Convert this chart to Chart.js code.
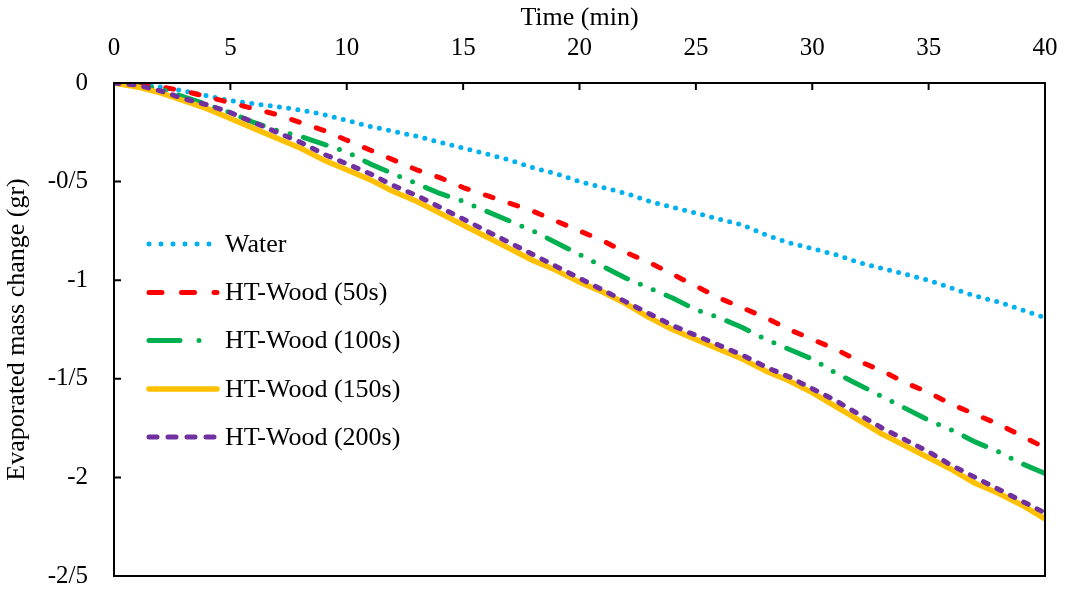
<!DOCTYPE html>
<html>
<head>
<meta charset="utf-8">
<script src="https://cdn.jsdelivr.net/npm/chart.js@4.4.1/dist/chart.umd.min.js"></script>
<style>
	html, body { margin: 0; padding: 0; background: #fff; overflow: hidden; }
	canvas { display: block; }
</style>
</head>
<body>
<canvas id="evapChart" width="1068" height="592"></canvas>
<script>
// time in minutes
const timeMin = [0, 1, 2, 3, 4, 5, 6, 7, 8, 9, 10, 11, 12, 13, 14, 15, 16, 17, 18, 19, 20,
	21, 22, 23, 24, 25, 26, 27, 28, 29, 30, 31, 32, 33, 34, 35, 36, 37, 38, 39, 40];

const water = [0, -0.005, -0.02, -0.04, -0.065, -0.09, -0.105, -0.12, -0.137, -0.16, -0.19,
	-0.22, -0.245, -0.27, -0.30, -0.33, -0.36, -0.39, -0.43, -0.46, -0.50,
	-0.53, -0.56, -0.60, -0.63, -0.66, -0.69, -0.72, -0.77, -0.81, -0.84,
	-0.87, -0.91, -0.94, -0.97, -1.00, -1.04, -1.08, -1.11, -1.15, -1.19];

const wood50 = [0, -0.005, -0.02, -0.04, -0.07, -0.10, -0.13, -0.16, -0.20, -0.24, -0.29,
	-0.34, -0.39, -0.44, -0.48, -0.53, -0.57, -0.61, -0.65, -0.70, -0.75,
	-0.80, -0.86, -0.91, -0.97, -1.03, -1.09, -1.14, -1.19, -1.25, -1.30,
	-1.35, -1.41, -1.46, -1.52, -1.57, -1.63, -1.68, -1.73, -1.79, -1.85];

const wood100 = [0, -0.01, -0.03, -0.07, -0.11, -0.15, -0.20, -0.24, -0.27, -0.31, -0.35,
	-0.41, -0.46, -0.51, -0.56, -0.60, -0.65, -0.70, -0.75, -0.81, -0.87,
	-0.93, -0.99, -1.04, -1.09, -1.15, -1.19, -1.24, -1.30, -1.35, -1.40,
	-1.47, -1.53, -1.59, -1.65, -1.71, -1.76, -1.82, -1.87, -1.93, -1.98];

const wood150 = [0, -0.02, -0.05, -0.09, -0.13, -0.18, -0.23, -0.28, -0.33, -0.39, -0.44,
	-0.49, -0.55, -0.60, -0.66, -0.72, -0.78, -0.84, -0.90, -0.95, -1.01,
	-1.06, -1.12, -1.19, -1.25, -1.30, -1.35, -1.40, -1.46, -1.51, -1.57,
	-1.64, -1.71, -1.78, -1.84, -1.90, -1.96, -2.03, -2.08, -2.14, -2.21];

const wood200 = [0, -0.01, -0.04, -0.08, -0.11, -0.15, -0.20, -0.25, -0.30, -0.36, -0.41,
	-0.46, -0.52, -0.57, -0.63, -0.69, -0.75, -0.81, -0.87, -0.93, -0.99,
	-1.05, -1.11, -1.17, -1.23, -1.28, -1.33, -1.38, -1.44, -1.49, -1.55,
	-1.61, -1.68, -1.75, -1.81, -1.87, -1.94, -2.00, -2.06, -2.12, -2.18];

const seriesNames = ['Water', 'HT-Wood (50s)', 'HT-Wood (100s)', 'HT-Wood (150s)', 'HT-Wood (200s)'];

// y tick labels as printed (slash as decimal mark)
const yTickValues = [0, -0.5, -1, -1.5, -2, -2.5];
const yTickLabels = ['0', '-0/5', '-1', '-1/5', '-2', '-2/5'];

const FONT = "'Liberation Serif', 'Times New Roman', serif";

function pts(arr) {
	return arr.map(function (v, i) { return { x: timeMin[i], y: v }; });
}

// dash = pattern in plot, legDash = pattern of the legend sample
const styles = [
	{ color: '#00B0F0', dash: [0, 9.3], legDash: [0, 12], width: 5 },
	{ color: '#FF0000', dash: [8, 18], legDash: [13, 19.5], width: 5 },
	{ color: '#00B050', dash: [24, 14, 0, 14, 0, 14], legDash: [31, 19, 0, 30], width: 5 },
	{ color: '#FFC000', dash: [], legDash: [], width: 5.5 },
	{ color: '#7030A0', dash: [5, 10], legDash: [8, 11], width: 5 }
];
const allSeries = [water, wood50, wood100, wood150, wood200];

const datasets = allSeries.map(function (s, i) {
	return {
		label: seriesNames[i],
		data: pts(s),
		borderColor: styles[i].color,
		backgroundColor: styles[i].color,
		borderWidth: styles[i].width,
		borderDash: styles[i].dash,
		borderCapStyle: 'round',
		borderJoinStyle: 'round',
		pointRadius: 0,
		tension: 0,
		fill: false,
		order: 4 - i
	};
});

// frame, inward ticks, legend
const framePlugin = {
	id: 'framePlugin',
	afterDraw: function (chart) {
		const ctx = chart.ctx;
		const a = chart.chartArea;
		const xs = chart.scales.x;
		const ys = chart.scales.y;
		ctx.save();
		ctx.strokeStyle = '#000';
		ctx.lineWidth = 2;
		ctx.lineCap = 'butt';
		ctx.setLineDash([]);
		ctx.strokeRect(a.left, a.top, a.right - a.left, a.bottom - a.top);
		ctx.beginPath();
		xs.ticks.forEach(function (t) {
			const px = xs.getPixelForValue(t.value);
			ctx.moveTo(px, a.top);
			ctx.lineTo(px, a.top + 7);
		});
		ys.ticks.forEach(function (t) {
			const py = ys.getPixelForValue(t.value);
			ctx.moveTo(a.left, py);
			ctx.lineTo(a.left + 7, py);
		});
		ctx.stroke();

		// legend
		const lx = 147, lw = 70, tx = 225;
		const rows = [244, 292.5, 340.5, 389, 437];
		ctx.font = '26px ' + FONT;
		ctx.textBaseline = 'middle';
		ctx.textAlign = 'left';
		chart.data.datasets.forEach(function (ds, i) {
			const y = rows[i];
			ctx.strokeStyle = ds.borderColor;
			ctx.lineWidth = ds.borderWidth;
			ctx.lineCap = 'round';
			ctx.setLineDash(styles[i].legDash);
			ctx.beginPath();
			ctx.moveTo(lx + 2, y);
			ctx.lineTo(lx + lw, y);
			ctx.stroke();
			ctx.setLineDash([]);
			ctx.fillStyle = '#000';
			ctx.fillText(ds.label, tx, y + 1);
		});
		ctx.restore();
	}
};

const ctx = document.getElementById('evapChart').getContext('2d');
new Chart(ctx, {
	type: 'line',
	data: { datasets: datasets },
	options: {
		responsive: false,
		animation: false,
		devicePixelRatio: 1,
		layout: { padding: { left: 0, top: 0, right: 23, bottom: 16 } },
		plugins: {
			legend: { display: false },
			tooltip: { enabled: false }
		},
		scales: {
			x: {
				type: 'linear',
				position: 'top',
				min: 0,
				max: 40,
				ticks: {
					stepSize: 5,
					padding: 20,
					color: '#000',
					font: { family: FONT, size: 25 },
					maxRotation: 0
				},
				grid: { display: false, drawTicks: false },
				border: { display: false },
				title: {
					display: true,
					text: 'Time (min)',
					color: '#000',
					font: { family: FONT, size: 26 },
					padding: { top: 3, bottom: 0 }
				},
				afterFit: function (scale) {
					scale.height = 83;
					scale.paddingLeft = 0;
					scale.paddingRight = 0;
				}
			},
			y: {
				type: 'linear',
				min: -2.5,
				max: 0,
				afterBuildTicks: function (scale) {
					scale.ticks = yTickValues.map(function (v) { return { value: v }; });
				},
				ticks: {
					padding: 26,
					color: '#000',
					font: { family: FONT, size: 25 },
					callback: function (value) {
						const idx = yTickValues.indexOf(value);
						return idx >= 0 ? yTickLabels[idx] : '';
					}
				},
				grid: { display: false, drawTicks: false },
				border: { display: false },
				title: {
					display: true,
					text: 'Evaporated mass change (gr)',
					color: '#000',
					font: { family: FONT, size: 26 },
					padding: { top: 2, bottom: 0 }
				},
				afterFit: function (scale) {
					scale.width = 114;
					scale.paddingTop = 0;
					scale.paddingBottom = 0;
				}
			}
		}
	},
	plugins: [framePlugin]
});
</script>
</body>
</html>
